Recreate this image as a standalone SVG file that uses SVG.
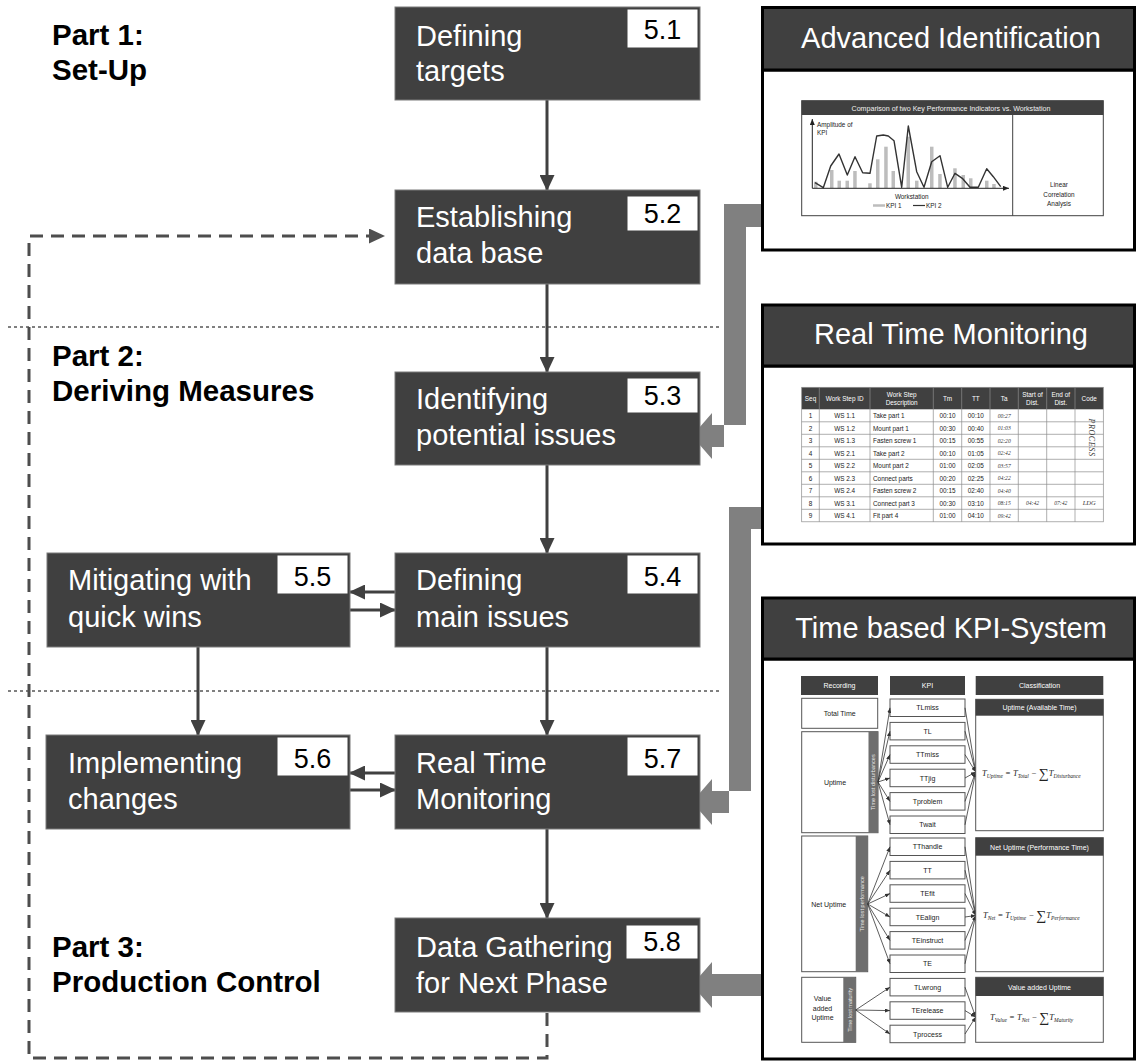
<svg xmlns="http://www.w3.org/2000/svg" width="1136" height="1061" viewBox="0 0 1136 1061">
  <defs>
    <marker id="ah" markerUnits="userSpaceOnUse" markerWidth="16" markerHeight="15" viewBox="0 0 16 15" refX="15" refY="7.5" orient="auto">
      <path d="M0,0 L16,7.5 L0,15 z" fill="#404040"/>
    </marker>
    <marker id="ahd" markerUnits="userSpaceOnUse" markerWidth="16" markerHeight="15" viewBox="0 0 16 15" refX="15" refY="7.5" orient="auto">
      <path d="M0,0 L16,7.5 L0,15 z" fill="#505050"/>
    </marker>
    <marker id="sa" markerUnits="userSpaceOnUse" markerWidth="5" markerHeight="4" viewBox="0 0 5 4" refX="5" refY="2" orient="auto">
      <path d="M0,0 L5,2 L0,4 z" fill="#333"/>
    </marker>
    <marker id="axa" markerUnits="userSpaceOnUse" markerWidth="6" markerHeight="5" viewBox="0 0 6 5" refX="6" refY="2.5" orient="auto">
      <path d="M0,0 L6,2.5 L0,5 z" fill="#222"/>
    </marker>
  </defs>
  <style>
    text { font-family: "Liberation Sans", Arial, sans-serif; }
    .box { fill: #404040; stroke: #7a7a7a; stroke-width: 1; }
    .lbl { fill: #ffffff; stroke: #404040; stroke-width: 1; }
    .bt { font-size: 29px; fill: #ffffff; }
    .num { font-size: 27px; fill: #000000; text-anchor: middle; }
    .part { font-size: 29.5px; font-weight: bold; fill: #000000; }
    .flow { stroke: #404040; stroke-width: 3; fill: none; marker-end: url(#ah); }
    .dash { stroke: #4d4d4d; stroke-width: 3; fill: none; stroke-dasharray: 13 8; }
    .sep { stroke: #000000; stroke-width: 1; stroke-dasharray: 3 3; fill: none; }
    .big { fill: #808080; }
    .panel { fill: #ffffff; stroke: #000000; stroke-width: 3; }
    .phead { fill: #404040; stroke: #000000; stroke-width: 3; }
    .ptitle { font-size: 29px; fill: #ffffff; text-anchor: middle; }
    .dk { fill: #404040; }
    .gl { stroke: #8c8c8c; stroke-width: 0.7; fill: none; }
    .t6 { font-size: 6.4px; fill: #222; }
    .t6w { font-size: 6.4px; fill: #ffffff; text-anchor: middle; }
    .c { text-anchor: middle; }
    .hw { font-family: "Liberation Serif", serif; font-style: italic; font-size: 5.6px; fill: #333; text-anchor: middle; }
    .kb { fill: #ffffff; stroke: #555555; stroke-width: 1; }
    .kt { font-size: 7px; fill: #222; text-anchor: middle; }
    .kw { font-size: 7px; fill: #ffffff; text-anchor: middle; }
    .bar { fill: #6e6e6e; }
    .bw { font-size: 5.6px; fill: #e8e8e8; text-anchor: middle; }
    .fan { stroke: #333333; stroke-width: 0.8; fill: none; marker-end: url(#sa); }
    .fx { font-family: "Liberation Serif", serif; font-style: italic; font-size: 8.5px; fill: #222; }
  </style>

  <!-- phase separators -->
  <line class="sep" x1="8" y1="327" x2="720" y2="327"/>
  <line class="sep" x1="8" y1="691" x2="720" y2="691"/>

  <!-- phase titles -->
  <g id="part1">
    <text class="part" x="52" y="45">Part 1:</text>
    <text class="part" x="52" y="80">Set-Up</text>
  </g>
  <g id="part2">
    <text class="part" x="52" y="366">Part 2:</text>
    <text class="part" x="52" y="401">Deriving Measures</text>
  </g>
  <g id="part3">
    <text class="part" x="52" y="957">Part 3:</text>
    <text class="part" x="52" y="992">Production Control</text>
  </g>

  <!-- connectors -->
  <g id="connectors">
    <line class="flow" x1="547" y1="100" x2="547" y2="190"/>
    <line class="flow" x1="547" y1="284" x2="547" y2="372"/>
    <line class="flow" x1="547" y1="465" x2="547" y2="553"/>
    <line class="flow" x1="547" y1="647" x2="547" y2="735"/>
    <line class="flow" x1="547" y1="829" x2="547" y2="918"/>
    <line class="flow" x1="198" y1="647" x2="198" y2="735"/>
    <line class="flow" x1="395" y1="592" x2="350" y2="592"/>
    <line class="flow" x1="350" y1="610" x2="395" y2="610"/>
    <line class="flow" x1="395" y1="773" x2="350" y2="773"/>
    <line class="flow" x1="350" y1="790" x2="395" y2="790"/>
    <path class="dash" d="M547,1013 V1058 H29 V236 H384" marker-end="url(#ahd)"/>
    <!-- feeds from the tool panels -->
    <path class="big" d="M762,204 H724 V447 H712 V459 L692,436 L712,413 V425 H746 V227 H762 Z"/>
    <path class="big" d="M762,507 H729 V813 H712 V825 L692,802 L712,779 V791 H751 V529 H762 Z"/>
    <path class="big" d="M762,974 H712 V962 L692,985 L712,1008 V996 H762 Z"/>
  </g>

  <!-- process steps -->
  <g id="step51">
    <rect class="box" x="395" y="7" width="305" height="93"/>
    <rect class="lbl" x="627" y="9" width="71" height="39"/>
    <text class="num" x="662.5" y="39">5.1</text>
    <text class="bt" x="416" y="46">Defining</text>
    <text class="bt" x="416" y="81">targets</text>
  </g>
  <g id="step52">
    <rect class="box" x="395" y="190" width="305" height="94"/>
    <rect class="lbl" x="627" y="196" width="71" height="35"/>
    <text class="num" x="662.5" y="223">5.2</text>
    <text class="bt" x="416" y="227">Establishing</text>
    <text class="bt" x="416" y="263">data base</text>
  </g>
  <g id="step53">
    <rect class="box" x="395" y="372" width="305" height="93"/>
    <rect class="lbl" x="627" y="378" width="71" height="35"/>
    <text class="num" x="662.5" y="405">5.3</text>
    <text class="bt" x="416" y="409">Identifying</text>
    <text class="bt" x="416" y="445">potential issues</text>
  </g>
  <g id="step54">
    <rect class="box" x="395" y="553" width="305" height="94"/>
    <rect class="lbl" x="627" y="555" width="71" height="39"/>
    <text class="num" x="662.5" y="586">5.4</text>
    <text class="bt" x="416" y="590">Defining</text>
    <text class="bt" x="416" y="627">main issues</text>
  </g>
  <g id="step55">
    <rect class="box" x="47" y="553" width="303" height="94"/>
    <rect class="lbl" x="277" y="555" width="71" height="39"/>
    <text class="num" x="312.5" y="586">5.5</text>
    <text class="bt" x="68" y="590">Mitigating with</text>
    <text class="bt" x="68" y="627">quick wins</text>
  </g>
  <g id="step56">
    <rect class="box" x="46" y="735" width="304" height="94"/>
    <rect class="lbl" x="277" y="737" width="71" height="39"/>
    <text class="num" x="312.5" y="768">5.6</text>
    <text class="bt" x="68" y="773">Implementing</text>
    <text class="bt" x="68" y="809">changes</text>
  </g>
  <g id="step57">
    <rect class="box" x="395" y="735" width="305" height="94"/>
    <rect class="lbl" x="627" y="737" width="71" height="39"/>
    <text class="num" x="662.5" y="768">5.7</text>
    <text class="bt" x="416" y="773">Real Time</text>
    <text class="bt" x="416" y="809">Monitoring</text>
  </g>
  <g id="step58">
    <rect class="box" x="395" y="918" width="305" height="94"/>
    <rect class="lbl" x="626" y="925" width="72" height="34"/>
    <text class="num" x="662" y="951">5.8</text>
    <text class="bt" x="416" y="957">Data Gathering</text>
    <text class="bt" x="416" y="993">for Next Phase</text>
  </g>

  <!-- panel: advanced identification -->
  <g id="panel-advanced">
    <rect class="panel" x="762.5" y="70" width="372" height="180"/>
    <rect class="phead" x="762.5" y="7.5" width="372" height="62.5"/>
    <text class="ptitle" x="951" y="48">Advanced Identification</text>
    <rect x="801.7" y="100.7" width="301.6" height="115" fill="#ffffff" stroke="#404040" stroke-width="1"/>
    <rect class="dk" x="801.7" y="100.7" width="301.6" height="14.3"/>
    <text x="951" y="110.8" style="font-size:7.1px;fill:#f0f0f0;text-anchor:middle">Comparison of two Key Performance Indicators vs. Workstation</text>
    <line x1="1012.7" y1="115" x2="1012.7" y2="215.7" stroke="#404040" stroke-width="1"/>
    <g fill="#bdbdbd">
      <rect x="814" y="181.7" width="3.5" height="6.3"/>
      <rect x="830" y="170" width="3.5" height="18"/>
      <rect x="837.5" y="180.7" width="3.5" height="7.3"/>
      <rect x="845.5" y="180.7" width="3.5" height="7.3"/>
      <rect x="853.2" y="171" width="3.5" height="17"/>
      <rect x="868.2" y="183.3" width="3.5" height="4.7"/>
      <rect x="876" y="159.3" width="3.5" height="28.7"/>
      <rect x="884.2" y="146.7" width="3.5" height="41.3"/>
      <rect x="891.5" y="171" width="3.5" height="17"/>
      <rect x="906.5" y="136.7" width="3.5" height="51.3"/>
      <rect x="915" y="180.7" width="3.5" height="7.3"/>
      <rect x="930" y="146.7" width="3.5" height="41.3"/>
      <rect x="938.2" y="174" width="3.5" height="14"/>
      <rect x="953.2" y="168.3" width="3.5" height="19.7"/>
      <rect x="961.5" y="175" width="3.5" height="13"/>
      <rect x="969" y="178.3" width="3.5" height="9.7"/>
      <rect x="985" y="180.7" width="3.5" height="7.3"/>
      <rect x="992.2" y="184" width="3.5" height="4"/>
    </g>
    <polyline fill="none" stroke="#333333" stroke-width="1.4" stroke-linejoin="round" points="815,182.7 823.3,187.7 830.7,166 839,154 847.3,175 855,156.7 862.7,172.7 870,173.3 876.7,136 883.3,135 888.3,136 894,140.7 901.7,187.3 908.3,126 916.7,171.7 924,187.3 931.7,161.7 940,155.7 947.7,187.3 955,173.3 962.3,178.3 970,187.3 978.3,187.3 986.7,168.7 993.3,176.7 1000.7,186.7"/>
    <line x1="812.3" y1="188.3" x2="812.3" y2="119" stroke="#222" stroke-width="1" marker-end="url(#axa)"/>
    <line x1="812.3" y1="188.3" x2="1009" y2="188.3" stroke="#222" stroke-width="1" marker-end="url(#axa)"/>
    <text class="t6" x="817" y="126.5">Amplitude of</text>
    <text class="t6" x="817" y="134.5">KPI</text>
    <text class="t6 c" x="911.7" y="198.5">Workstation</text>
    <line x1="873" y1="205.5" x2="885" y2="205.5" stroke="#bdbdbd" stroke-width="2.5"/>
    <text class="t6" x="886" y="207.8">KPI 1</text>
    <line x1="913" y1="205.5" x2="925" y2="205.5" stroke="#333" stroke-width="1.2"/>
    <text class="t6" x="926" y="207.8">KPI 2</text>
    <text class="t6 c" x="1059" y="187">Linear</text>
    <text class="t6 c" x="1059" y="196.5">Correlation</text>
    <text class="t6 c" x="1059" y="206">Analysis</text>
  </g>

  <!-- panel: real time monitoring -->
  <g id="panel-monitoring">
    <rect class="panel" x="762.5" y="366" width="372" height="178"/>
    <rect class="phead" x="762.5" y="305" width="372" height="61"/>
    <text class="ptitle" x="951" y="344">Real Time Monitoring</text>
    <rect class="dk" x="801.7" y="387.3" width="301.6" height="22"/>
    <g class="gl">
      <rect x="801.7" y="387.3" width="301.6" height="134.5"/>
      <line x1="801.7" y1="421.8" x2="1103.3" y2="421.8"/>
      <line x1="801.7" y1="434.3" x2="1103.3" y2="434.3"/>
      <line x1="801.7" y1="446.8" x2="1103.3" y2="446.8"/>
      <line x1="801.7" y1="459.3" x2="1103.3" y2="459.3"/>
      <line x1="801.7" y1="471.8" x2="1103.3" y2="471.8"/>
      <line x1="801.7" y1="484.3" x2="1103.3" y2="484.3"/>
      <line x1="801.7" y1="496.8" x2="1103.3" y2="496.8"/>
      <line x1="801.7" y1="509.3" x2="1103.3" y2="509.3"/>
      <line x1="819.3" y1="387.3" x2="819.3" y2="521.8"/>
      <line x1="870" y1="387.3" x2="870" y2="521.8"/>
      <line x1="933.3" y1="387.3" x2="933.3" y2="521.8"/>
      <line x1="961.7" y1="387.3" x2="961.7" y2="521.8"/>
      <line x1="990" y1="387.3" x2="990" y2="521.8"/>
      <line x1="1018.3" y1="387.3" x2="1018.3" y2="521.8"/>
      <line x1="1046.7" y1="387.3" x2="1046.7" y2="521.8"/>
      <line x1="1075" y1="387.3" x2="1075" y2="521.8"/>
    </g>
    <text class="t6w" x="810.5" y="400.5">Seq</text>
    <text class="t6w" x="844.7" y="400.5">Work Step ID</text>
    <text class="t6w" x="901.7" y="396.5">Work Step</text>
    <text class="t6w" x="901.7" y="404.5">Description</text>
    <text class="t6w" x="947.5" y="400.5">Tm</text>
    <text class="t6w" x="975.8" y="400.5">TT</text>
    <text class="t6w" x="1004.2" y="400.5">Ta</text>
    <text class="t6w" x="1032.5" y="396.5">Start of</text>
    <text class="t6w" x="1032.5" y="404.5">Dist.</text>
    <text class="t6w" x="1060.8" y="396.5">End of</text>
    <text class="t6w" x="1060.8" y="404.5">Dist.</text>
    <text class="t6w" x="1089.2" y="400.5">Code</text>
    <g class="t6">
      <text class="c" x="810.5" y="418">1</text><text class="c" x="844.7" y="418">WS 1.1</text><text x="873" y="418">Take part 1</text><text class="c" x="947.5" y="418">00:10</text><text class="c" x="975.8" y="418">00:10</text>
      <text class="c" x="810.5" y="430.5">2</text><text class="c" x="844.7" y="430.5">WS 1.2</text><text x="873" y="430.5">Mount part 1</text><text class="c" x="947.5" y="430.5">00:30</text><text class="c" x="975.8" y="430.5">00:40</text>
      <text class="c" x="810.5" y="443">3</text><text class="c" x="844.7" y="443">WS 1.3</text><text x="873" y="443">Fasten screw 1</text><text class="c" x="947.5" y="443">00:15</text><text class="c" x="975.8" y="443">00:55</text>
      <text class="c" x="810.5" y="455.5">4</text><text class="c" x="844.7" y="455.5">WS 2.1</text><text x="873" y="455.5">Take part 2</text><text class="c" x="947.5" y="455.5">00:10</text><text class="c" x="975.8" y="455.5">01:05</text>
      <text class="c" x="810.5" y="468">5</text><text class="c" x="844.7" y="468">WS 2.2</text><text x="873" y="468">Mount part 2</text><text class="c" x="947.5" y="468">01:00</text><text class="c" x="975.8" y="468">02:05</text>
      <text class="c" x="810.5" y="480.5">6</text><text class="c" x="844.7" y="480.5">WS 2.3</text><text x="873" y="480.5">Connect parts</text><text class="c" x="947.5" y="480.5">00:20</text><text class="c" x="975.8" y="480.5">02:25</text>
      <text class="c" x="810.5" y="493">7</text><text class="c" x="844.7" y="493">WS 2.4</text><text x="873" y="493">Fasten screw 2</text><text class="c" x="947.5" y="493">00:15</text><text class="c" x="975.8" y="493">02:40</text>
      <text class="c" x="810.5" y="505.5">8</text><text class="c" x="844.7" y="505.5">WS 3.1</text><text x="873" y="505.5">Connect part 3</text><text class="c" x="947.5" y="505.5">00:30</text><text class="c" x="975.8" y="505.5">03:10</text>
      <text class="c" x="810.5" y="518">9</text><text class="c" x="844.7" y="518">WS 4.1</text><text x="873" y="518">Fit part 4</text><text class="c" x="947.5" y="518">01:00</text><text class="c" x="975.8" y="518">04:10</text>
    </g>
    <g>
      <text class="hw" x="1004.2" y="417.5">00:27</text>
      <text class="hw" x="1004.2" y="430">01:03</text>
      <text class="hw" x="1004.2" y="442.5">02:20</text>
      <text class="hw" x="1004.2" y="455">02:42</text>
      <text class="hw" x="1004.2" y="467.5">03:57</text>
      <text class="hw" x="1004.2" y="480">04:22</text>
      <text class="hw" x="1004.2" y="492.5">04:40</text>
      <text class="hw" x="1004.2" y="505">08:15</text>
      <text class="hw" x="1004.2" y="517.5">09:42</text>
      <text class="hw" x="1032.5" y="505">04:42</text>
      <text class="hw" x="1060.8" y="505">07:42</text>
      <text class="hw" x="1089.2" y="505" style="font-size:6.5px">LDG</text>
      <text class="hw" x="1089.2" y="437.5" transform="rotate(90 1089.2 437.5)" style="font-size:8px;letter-spacing:0.6px">PROCESS</text>
    </g>
  </g>

  <!-- panel: time based KPI-system -->
  <g id="panel-kpi">
    <rect class="panel" x="762.5" y="659" width="372" height="400"/>
    <rect class="phead" x="762.5" y="598" width="372" height="61"/>
    <text class="ptitle" x="951" y="638">Time based KPI-System</text>

    <rect class="dk" x="801" y="676" width="77" height="19"/>
    <text class="kw" x="839.5" y="688.3">Recording</text>
    <rect class="dk" x="890" y="676" width="75" height="19"/>
    <text class="kw" x="927.5" y="688.3">KPI</text>
    <rect class="dk" x="975.7" y="676" width="127.6" height="19"/>
    <text class="kw" x="1039.5" y="688.3">Classification</text>

    <!-- recording -->
    <rect class="kb" x="801.7" y="698.3" width="76" height="30"/>
    <text class="kt" x="839.7" y="715.8">Total Time</text>
    <rect class="kb" x="801.7" y="731.7" width="76.3" height="101"/>
    <rect class="bar" x="868.5" y="731.7" width="9.5" height="101"/>
    <text class="kt" x="835" y="785">Uptime</text>
    <text class="bw" transform="translate(875.2 782.2) rotate(-90)">Time lost disturbances</text>
    <rect class="kb" x="801.7" y="836" width="66" height="135.7"/>
    <rect class="bar" x="855.7" y="836" width="12" height="135.7"/>
    <text class="kt" x="828.7" y="906.5">Net Uptime</text>
    <text class="bw" transform="translate(863.7 903.8) rotate(-90)">Time lost performance</text>
    <rect class="kb" x="801.7" y="977.3" width="54" height="65"/>
    <rect class="bar" x="843.3" y="977.3" width="12.4" height="65"/>
    <text class="kt" x="822.5" y="1000.8">Value</text>
    <text class="kt" x="822.5" y="1010.5">added</text>
    <text class="kt" x="822.5" y="1020.2">Uptime</text>
    <text class="bw" transform="translate(851.5 1009.8) rotate(-90)">Time lost maturity</text>

    <!-- KPI list -->
    <g>
      <rect class="kb" x="890" y="699" width="75" height="17.5"/><text class="kt" x="927.5" y="710.3">TLmiss</text>
      <rect class="kb" x="890" y="722.4" width="75" height="17.5"/><text class="kt" x="927.5" y="733.7">TL</text>
      <rect class="kb" x="890" y="745.8" width="75" height="17.5"/><text class="kt" x="927.5" y="757.1">TTmiss</text>
      <rect class="kb" x="890" y="769.2" width="75" height="17.5"/><text class="kt" x="927.5" y="780.5">TTjig</text>
      <rect class="kb" x="890" y="792.6" width="75" height="17.5"/><text class="kt" x="927.5" y="803.9">Tproblem</text>
      <rect class="kb" x="890" y="816" width="75" height="17.5"/><text class="kt" x="927.5" y="827.3">Twait</text>
      <rect class="kb" x="890" y="838" width="75" height="17.5"/><text class="kt" x="927.5" y="849.3">TThandle</text>
      <rect class="kb" x="890" y="861.4" width="75" height="17.5"/><text class="kt" x="927.5" y="872.7">TT</text>
      <rect class="kb" x="890" y="884.8" width="75" height="17.5"/><text class="kt" x="927.5" y="896.1">TEfit</text>
      <rect class="kb" x="890" y="908.2" width="75" height="17.5"/><text class="kt" x="927.5" y="919.5">TEalign</text>
      <rect class="kb" x="890" y="931.6" width="75" height="17.5"/><text class="kt" x="927.5" y="942.9">TEinstruct</text>
      <rect class="kb" x="890" y="955" width="75" height="17.5"/><text class="kt" x="927.5" y="966.3">TE</text>
      <rect class="kb" x="890" y="978.4" width="75" height="17.5"/><text class="kt" x="927.5" y="989.7">TLwrong</text>
      <rect class="kb" x="890" y="1001.8" width="75" height="17.5"/><text class="kt" x="927.5" y="1013.1">TErelease</text>
      <rect class="kb" x="890" y="1025.2" width="75" height="17.5"/><text class="kt" x="927.5" y="1036.5">Tprocess</text>
    </g>

    <!-- fan-out and fan-in links -->
    <g>
      <line class="fan" x1="878" y1="782" x2="890" y2="707.8"/>
      <line class="fan" x1="878" y1="782" x2="890" y2="731.2"/>
      <line class="fan" x1="878" y1="782" x2="890" y2="754.6"/>
      <line class="fan" x1="878" y1="782" x2="890" y2="778"/>
      <line class="fan" x1="878" y1="782" x2="890" y2="801.4"/>
      <line class="fan" x1="878" y1="782" x2="890" y2="824.8"/>
      <line class="fan" x1="965" y1="707.8" x2="975.7" y2="772"/>
      <line class="fan" x1="965" y1="731.2" x2="975.7" y2="772"/>
      <line class="fan" x1="965" y1="754.6" x2="975.7" y2="772"/>
      <line class="fan" x1="965" y1="778" x2="975.7" y2="772"/>
      <line class="fan" x1="965" y1="801.4" x2="975.7" y2="772"/>
      <line class="fan" x1="965" y1="824.8" x2="975.7" y2="772"/>

      <line class="fan" x1="867.7" y1="904" x2="890" y2="846.8"/>
      <line class="fan" x1="867.7" y1="904" x2="890" y2="870.2"/>
      <line class="fan" x1="867.7" y1="904" x2="890" y2="893.6"/>
      <line class="fan" x1="867.7" y1="904" x2="890" y2="917"/>
      <line class="fan" x1="867.7" y1="904" x2="890" y2="940.4"/>
      <line class="fan" x1="867.7" y1="904" x2="890" y2="963.8"/>
      <line class="fan" x1="965" y1="846.8" x2="975.7" y2="915.5"/>
      <line class="fan" x1="965" y1="870.2" x2="975.7" y2="915.5"/>
      <line class="fan" x1="965" y1="893.6" x2="975.7" y2="915.5"/>
      <line class="fan" x1="965" y1="917" x2="975.7" y2="915.5"/>
      <line class="fan" x1="965" y1="940.4" x2="975.7" y2="915.5"/>
      <line class="fan" x1="965" y1="963.8" x2="975.7" y2="915.5"/>

      <line class="fan" x1="855.7" y1="1010" x2="890" y2="987.2"/>
      <line class="fan" x1="855.7" y1="1010" x2="890" y2="1010.6"/>
      <line class="fan" x1="855.7" y1="1010" x2="890" y2="1034"/>
      <line class="fan" x1="965" y1="987.2" x2="975.7" y2="1017"/>
      <line class="fan" x1="965" y1="1010.6" x2="975.7" y2="1017"/>
      <line class="fan" x1="965" y1="1034" x2="975.7" y2="1017"/>
    </g>

    <!-- classification -->
    <rect class="kb" x="975.7" y="699.3" width="127.6" height="131.4"/>
    <rect class="dk" x="975.7" y="699.3" width="127.6" height="16.4"/>
    <text class="kw" x="1039.5" y="710.3">Uptime (Available Time)</text>
    <text class="fx" x="982" y="776">T<tspan font-size="5.5" dy="1.5">Uptime</tspan><tspan dy="-1.5"> = T</tspan><tspan font-size="5.5" dy="1.5">Total</tspan><tspan dy="-1.5"> − </tspan><tspan font-style="normal" font-size="14" dy="2">∑</tspan><tspan dy="-2">T</tspan><tspan font-size="5.5" dy="1.5">Disturbance</tspan></text>

    <rect class="kb" x="975.7" y="837.7" width="127.6" height="134"/>
    <rect class="dk" x="975.7" y="837.7" width="127.6" height="18"/>
    <text class="kw" x="1039.5" y="849.5">Net Uptime (Performance Time)</text>
    <text class="fx" x="983" y="918">T<tspan font-size="5.5" dy="1.5">Net</tspan><tspan dy="-1.5"> = T</tspan><tspan font-size="5.5" dy="1.5">Uptime</tspan><tspan dy="-1.5"> − </tspan><tspan font-style="normal" font-size="14" dy="2">∑</tspan><tspan dy="-2">T</tspan><tspan font-size="5.5" dy="1.5">Performance</tspan></text>

    <rect class="kb" x="975.7" y="977.3" width="127.6" height="65"/>
    <rect class="dk" x="975.7" y="977.3" width="127.6" height="18.7"/>
    <text class="kw" x="1039.5" y="989.5">Value added Uptime</text>
    <text class="fx" x="990" y="1020">T<tspan font-size="5.5" dy="1.5">Value</tspan><tspan dy="-1.5"> = T</tspan><tspan font-size="5.5" dy="1.5">Net</tspan><tspan dy="-1.5"> − </tspan><tspan font-style="normal" font-size="14" dy="2">∑</tspan><tspan dy="-2">T</tspan><tspan font-size="5.5" dy="1.5">Maturity</tspan></text>
  </g>
</svg>
